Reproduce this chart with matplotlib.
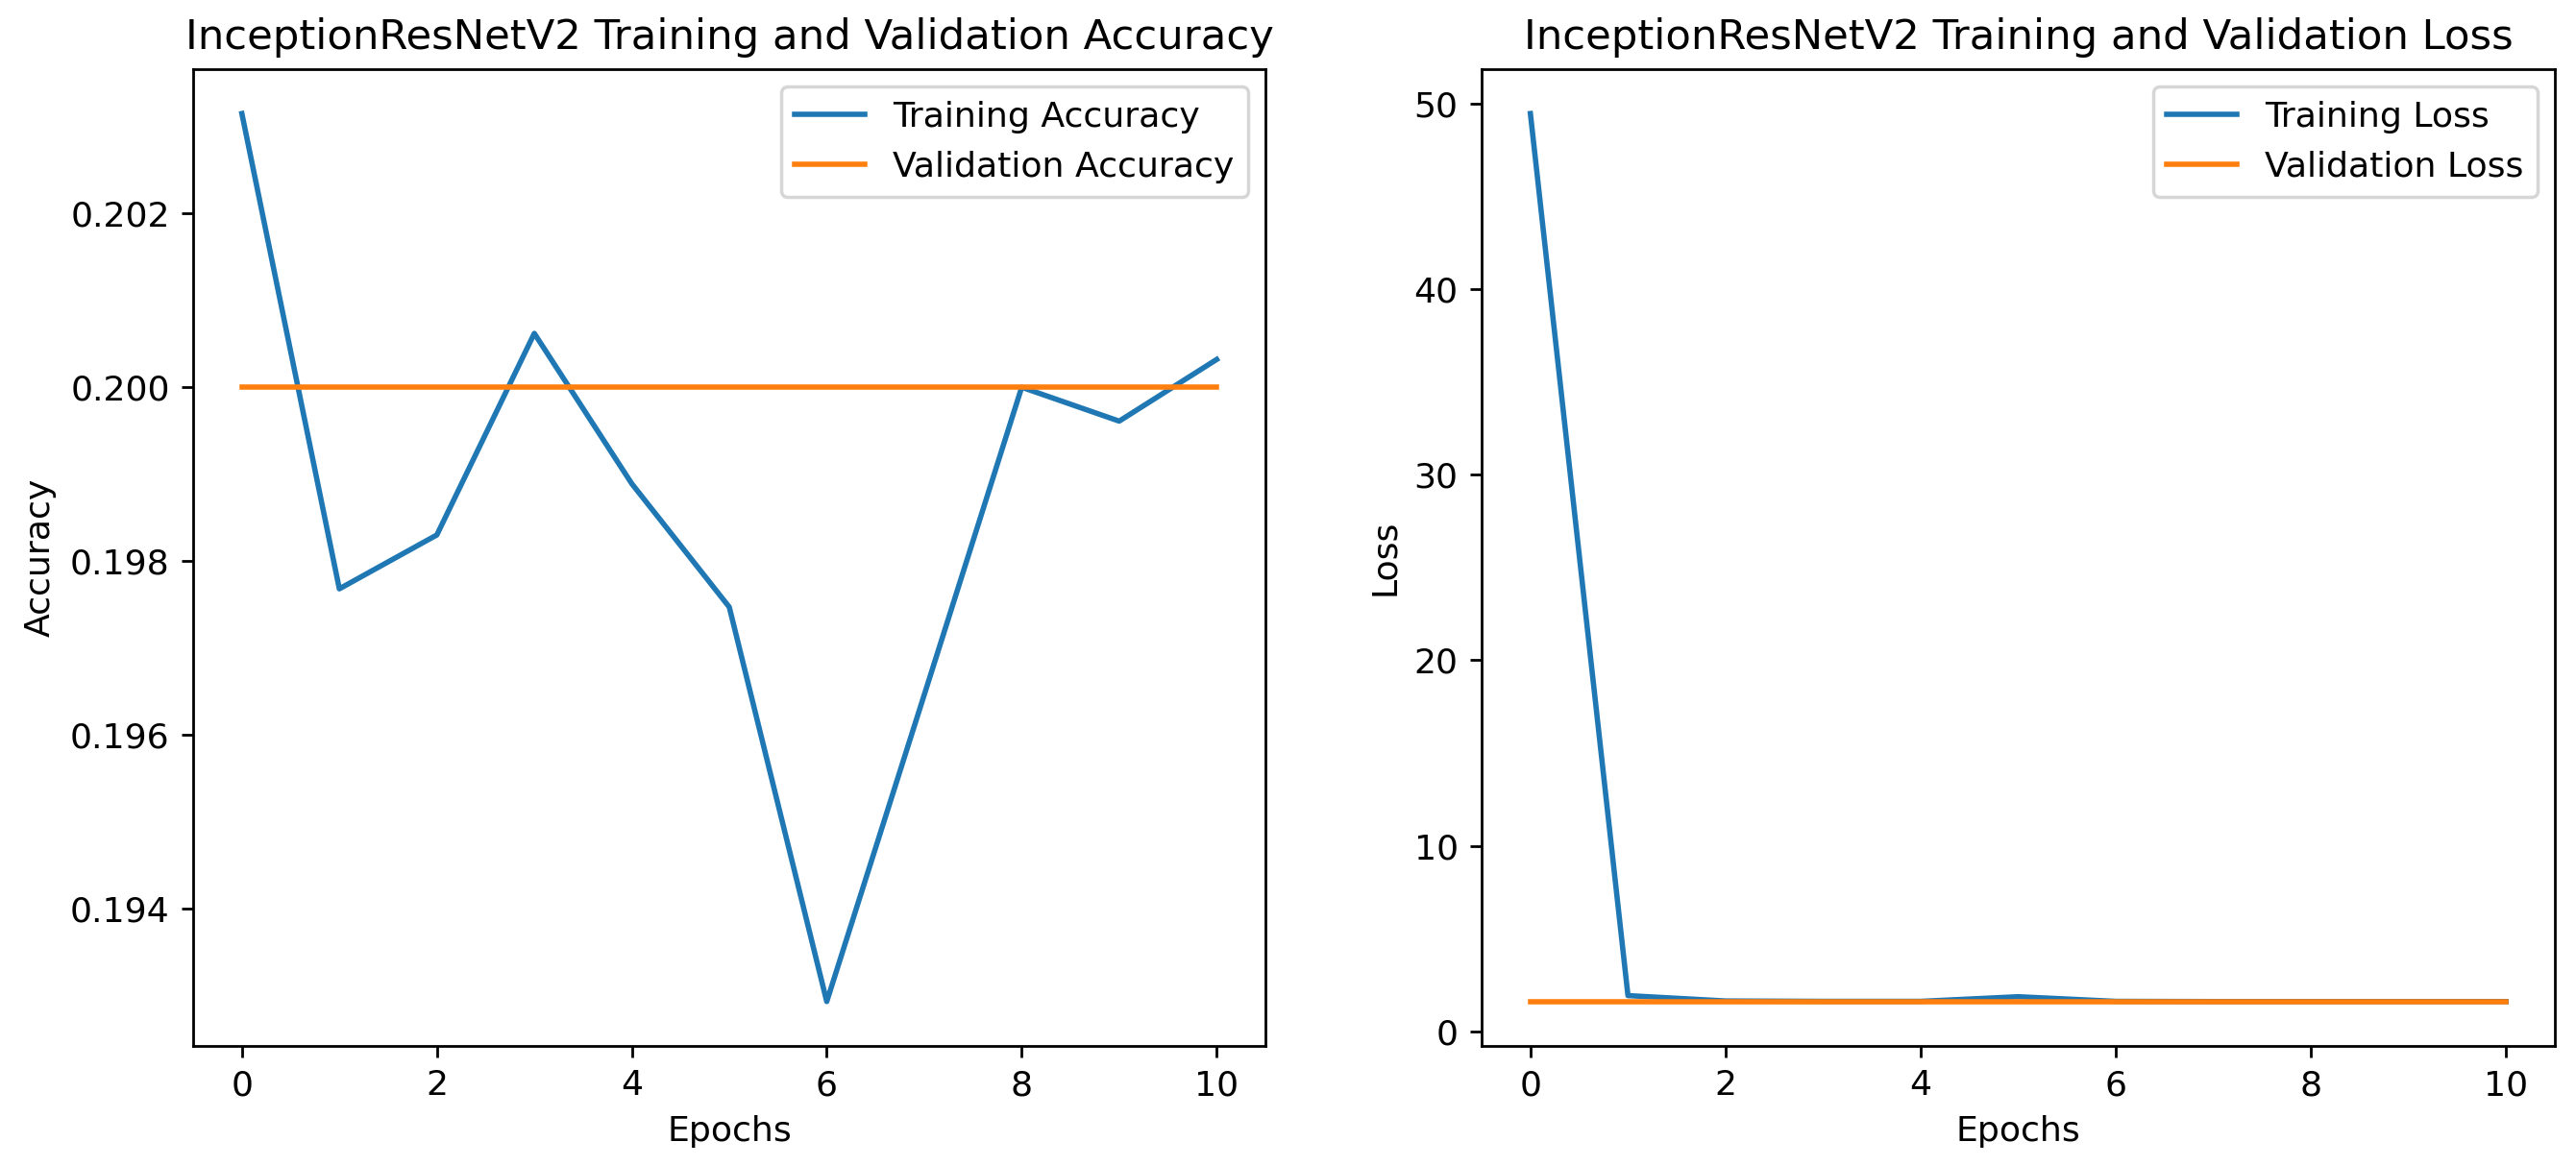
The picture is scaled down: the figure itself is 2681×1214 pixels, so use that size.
import matplotlib
matplotlib.use("Agg")
import matplotlib.pyplot as plt

epochs = list(range(11))
train_acc = [0.20315, 0.19768, 0.19830, 0.20062, 0.19889, 0.19747, 0.19293, 0.19646, 0.20000, 0.19961, 0.20032]
val_acc = [0.2] * 11
train_loss = [49.45, 1.93, 1.64, 1.62, 1.62, 1.87, 1.62, 1.61, 1.61, 1.61, 1.61]
val_loss = [1.6094] * 11

model_name = "InceptionResNetV2"

plt.rcParams["font.size"] = 10.45
plt.rcParams["axes.titlesize"] = 12.5
plt.rcParams["lines.linewidth"] = 1.6

DPI = 250
fig = plt.figure(figsize=(2681 / DPI, 1214 / DPI), dpi=DPI)
ax1 = fig.add_axes([201 / 2681, 125 / 1214, 1116 / 2681, 1017 / 1214])
ax2 = fig.add_axes([1542 / 2681, 125 / 1214, 1117 / 2681, 1017 / 1214])

ax1.plot(epochs, train_acc, label="Training Accuracy")
ax1.plot(epochs, val_acc, label="Validation Accuracy")
ax1.set_title(f"{model_name} Training and Validation Accuracy")
ax1.set_xlabel("Epochs")
ax1.set_ylabel("Accuracy")
ax1.legend()

ax2.plot(epochs, train_loss, label="Training Loss")
ax2.plot(epochs, val_loss, label="Validation Loss")
ax2.set_title(f"{model_name} Training and Validation Loss")
ax2.set_xlabel("Epochs")
ax2.set_ylabel("Loss")
ax2.legend()

fig.savefig("out.png", dpi=DPI)
